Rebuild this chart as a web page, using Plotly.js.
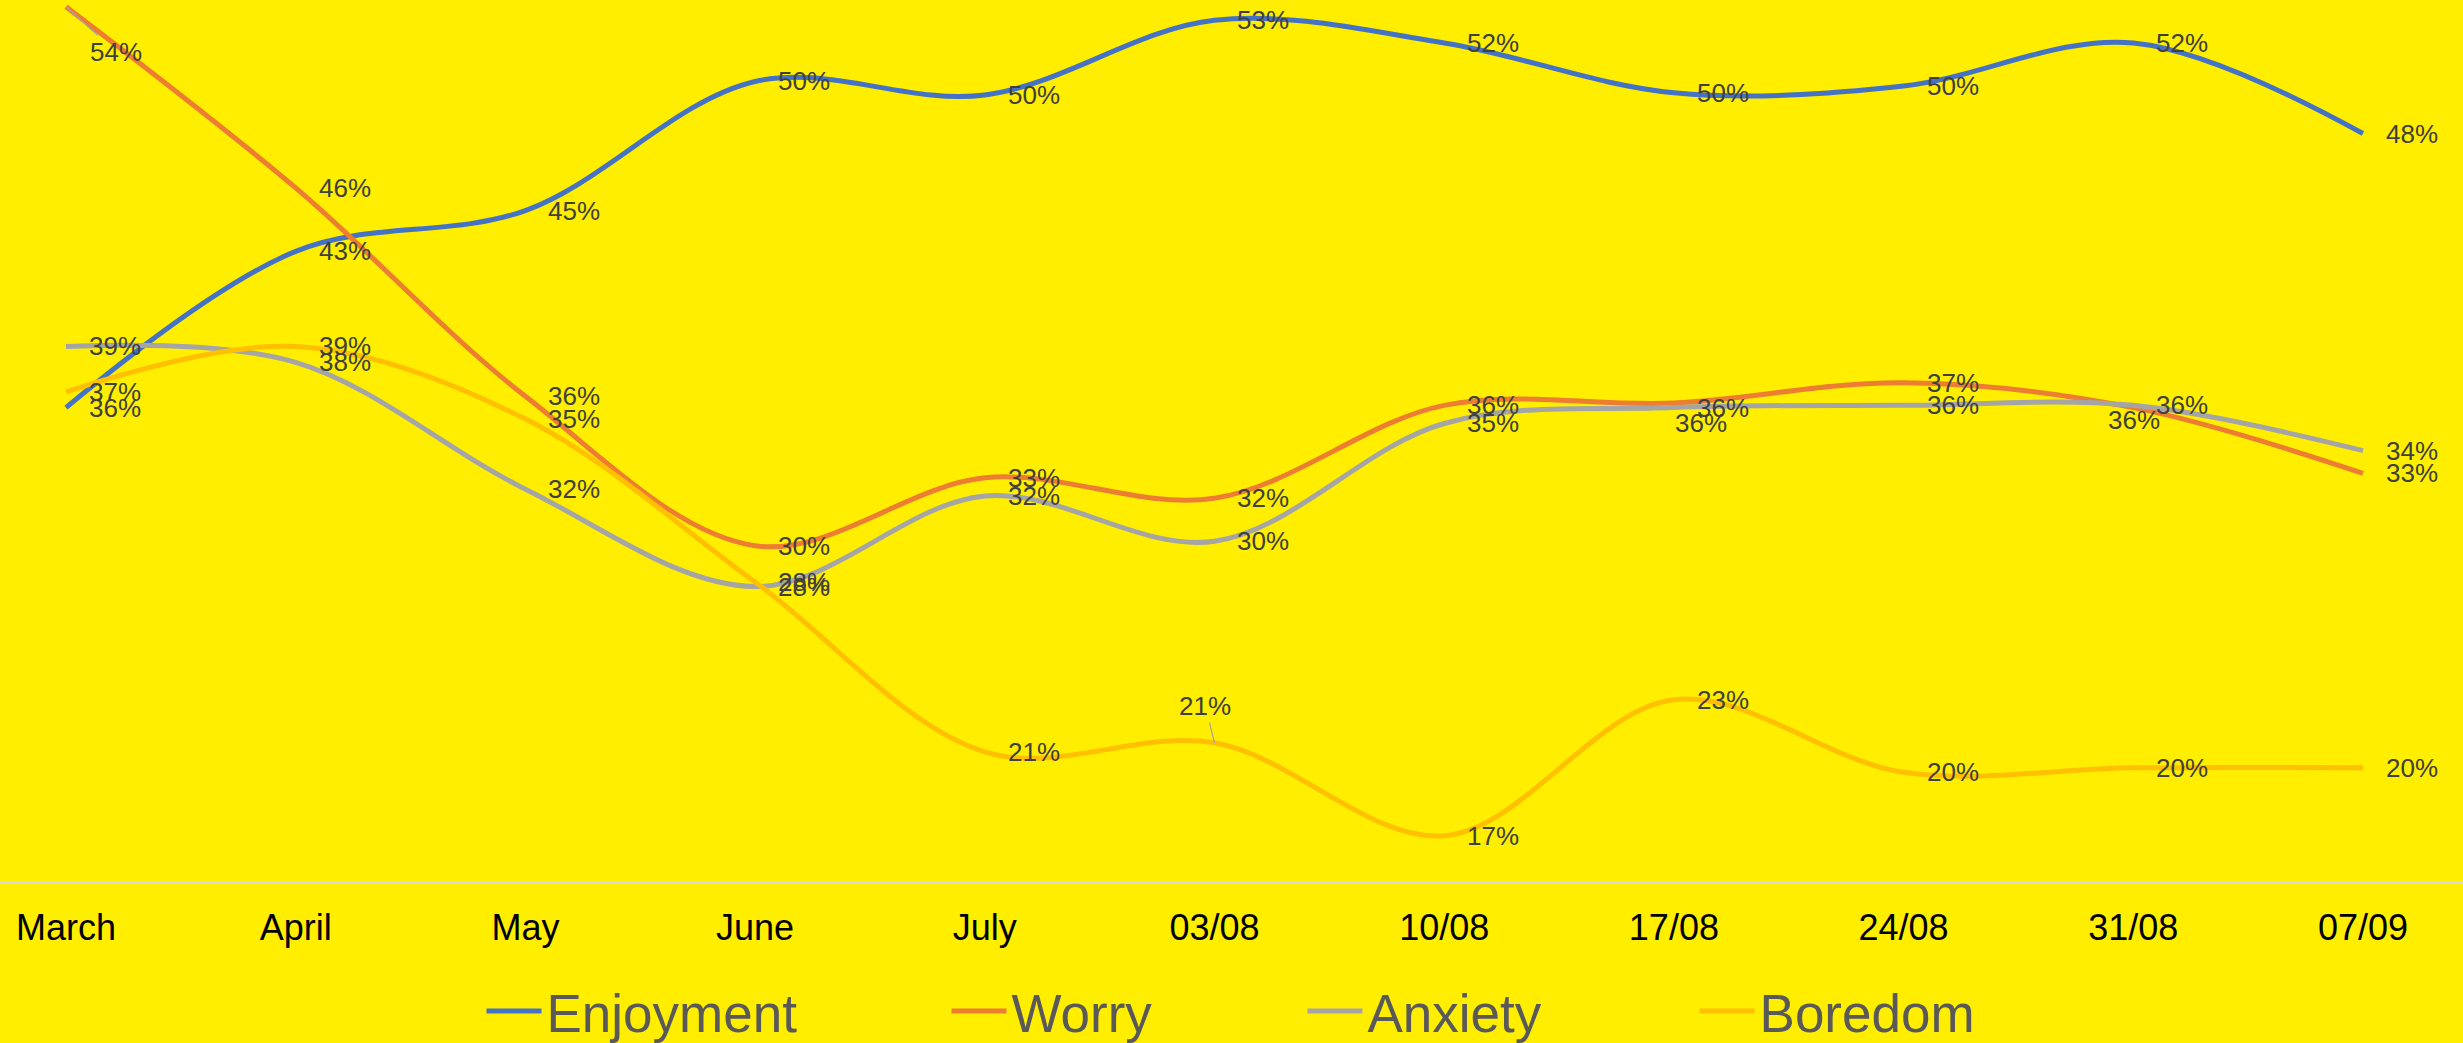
<!DOCTYPE html>
<html>
<head>
<meta charset="utf-8">
<script src="https://cdn.plot.ly/plotly-3.0.1.min.js"></script>
<style>
  html, body { margin: 0; padding: 0; background: #FFEE00; }
  #chart { width: 2463px; height: 1043px; }
</style>
</head>
<body>
<div id="chart"></div>
<script>
// ---- Data ----
const categories = ['March', 'April', 'May', 'June', 'July', '03/08', '10/08', '17/08', '24/08', '31/08', '07/09'];
const enjoyment = [0.359, 0.428, 0.446, 0.503, 0.497, 0.530, 0.520, 0.498, 0.501, 0.520, 0.480];
const worry     = [0.536, 0.456, 0.364, 0.298, 0.328, 0.319, 0.360, 0.361, 0.370, 0.359, 0.330];
const anxiety   = [0.386, 0.379, 0.323, 0.280, 0.320, 0.300, 0.352, 0.359, 0.360, 0.360, 0.340];
const boredom   = [0.366, 0.386, 0.354, 0.282, 0.207, 0.211, 0.170, 0.230, 0.198, 0.200, 0.200];
const seriesNames = ['Enjoyment', 'Worry', 'Anxiety', 'Boredom'];

// ---- Styling ----
const seriesColors = ['#4472C4', '#ED7D31', '#A5A5A5', '#FFC000'];
const seriesValues = [enjoyment, worry, anxiety, boredom];
const FONT = 'Liberation Sans, Arial, sans-serif';
const BG = '#FFEE00';

// per-label placement tweaks (style only)
const labelTweaks = {
  'Worry-0':   { leader: true, ax: 50, ay: 45 },
  'Boredom-5': { leader: true, ax: -9, ay: -37 },
  'Worry-7':   { xshift: -22, yshift: -20 },
  'Worry-9':   { xshift: -48, yshift: -12 }
};

const legendX = [0.1955, 0.3843, 0.5288, 0.6880];

const traces = seriesNames.map((name, i) => ({
  type: 'scatter',
  mode: 'lines',
  name: name,
  x: categories,
  y: seriesValues[i],
  line: { color: seriesColors[i], width: 5, shape: 'spline', smoothing: 1 },
  legend: i === 0 ? 'legend' : 'legend' + (i + 1),
  hoverinfo: 'skip'
}));

const annotations = [];
seriesNames.forEach((name, i) => {
  seriesValues[i].forEach((v, j) => {
    const key = name + '-' + j;
    const t = labelTweaks[key] || {};
    const a = {
      x: categories[j], y: v, xref: 'x', yref: 'y',
      text: Math.round(v * 100) + '%',
      font: { family: FONT, size: 26, color: '#404040' },
      showarrow: false
    };
    if (t.leader) {
      a.showarrow = true;
      a.arrowhead = 0;
      a.arrowwidth = 1.2;
      a.arrowcolor = '#A5A5A5';
      a.ax = t.ax; a.ay = t.ay;
      a.standoff = 0;
    } else {
      a.xanchor = 'left';
      a.yanchor = 'middle';
      a.xshift = 21 + (t.xshift || 0);
      a.yshift = (t.yshift || 0);
    }
    annotations.push(a);
  });
});

const legendBase = (x) => ({
  x: x, xanchor: 'left', y: -0.1476, yanchor: 'middle',
  orientation: 'h',
  font: { family: FONT, size: 53, color: '#595959' },
  bgcolor: 'rgba(0,0,0,0)',
  borderwidth: 0,
  itemwidth: 55
});

const layout = {
  width: 2463,
  height: 1043,
  paper_bgcolor: BG,
  plot_bgcolor: BG,
  margin: { l: 0, r: 0, t: 0, b: 162, autoexpand: false },
  showlegend: true,
  legend: legendBase(legendX[0]),
  legend2: legendBase(legendX[1]),
  legend3: legendBase(legendX[2]),
  legend4: legendBase(legendX[3]),
  xaxis: {
    type: 'category',
    range: [-0.2873, 10.4354],
    showgrid: false,
    zeroline: false,
    showline: true,
    linecolor: '#D9D9D9',
    linewidth: 2,
    ticks: '',
    tickfont: { family: FONT, size: 36, color: '#000000' },
    ticklabelstandoff: 14,
    fixedrange: true
  },
  yaxis: {
    range: [0.15, 0.53896],
    showgrid: false,
    zeroline: false,
    showline: false,
    showticklabels: false,
    ticks: '',
    fixedrange: true
  },
  annotations: annotations
};

Plotly.newPlot('chart', traces, layout, { displayModeBar: false, staticPlot: true });
</script>
</body>
</html>
